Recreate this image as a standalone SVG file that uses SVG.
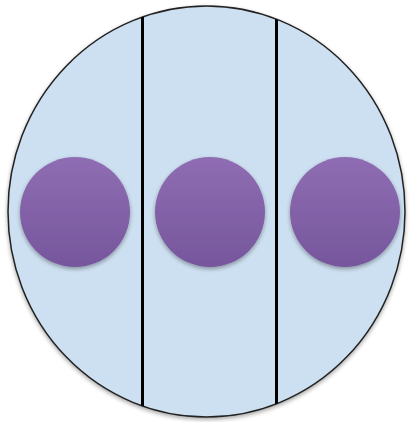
<svg xmlns="http://www.w3.org/2000/svg" width="411" height="422" viewBox="0 0 411 422">
<defs>
<linearGradient id="pg" x1="0" y1="0" x2="0" y2="1">
<stop offset="0" stop-color="#8f6db3"/>
<stop offset="1" stop-color="#76569c"/>
</linearGradient>
<filter id="sh" x="-20%" y="-20%" width="140%" height="150%">
<feGaussianBlur in="SourceAlpha" stdDeviation="2"/>
<feOffset dy="2" result="b"/>
<feComponentTransfer><feFuncA type="linear" slope="0.35"/></feComponentTransfer>
<feMerge><feMergeNode/><feMergeNode in="SourceGraphic"/></feMerge>
</filter>
<clipPath id="cp"><ellipse cx="206.5" cy="211.5" rx="198.5" ry="205.5"/></clipPath>
</defs>
<style>
.dot{fill:url(#pg);filter:url(#sh)}
.div{stroke:#000;stroke-width:3;fill:none}
</style>
<g id="outer">
<ellipse cx="206.5" cy="211.5" rx="198.5" ry="205.5" fill="#cde0f1" stroke="#222" stroke-width="1.5" filter="url(#sh)"/>
</g>
<g id="connectors" clip-path="url(#cp)">
<line class="div" x1="142.5" y1="0" x2="142.5" y2="422"/>
<line class="div" x1="276.5" y1="0" x2="276.5" y2="422"/>
</g>
<g id="dot1"><circle class="dot" cx="75" cy="212" r="55"/></g>
<g id="dot2"><circle class="dot" cx="210" cy="212" r="55"/></g>
<g id="dot3"><circle class="dot" cx="345" cy="212" r="55"/></g>
</svg>
